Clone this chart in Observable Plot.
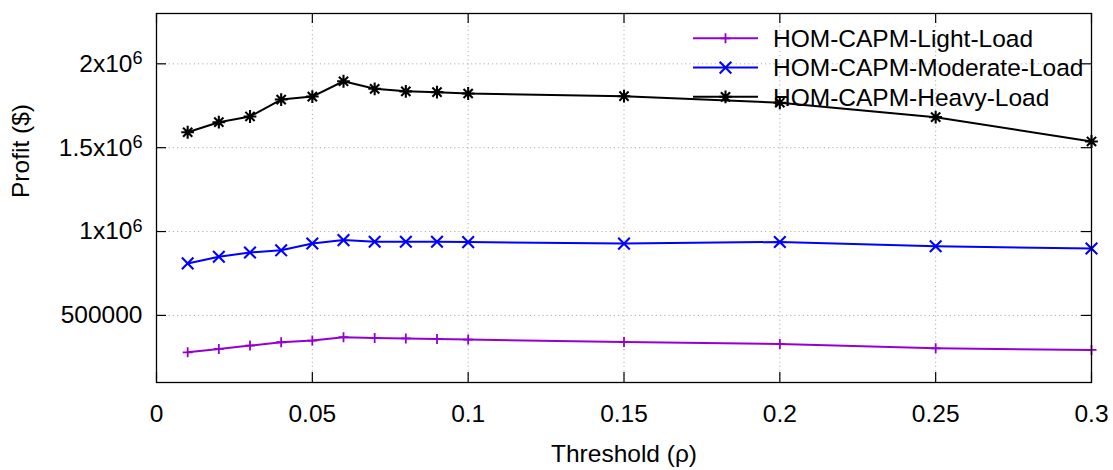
<!DOCTYPE html>
<html>
<head>
<meta charset="utf-8">
<script src="https://cdn.jsdelivr.net/npm/d3@7"></script>
<script src="https://cdn.jsdelivr.net/npm/@observablehq/plot@0.6"></script>
<style>
  html, body { margin: 0; padding: 0; background: #fff; }
  #chart svg { display: block; }
</style>
</head>
<body>
<div id="chart"></div>
<script>
// Profit versus threshold for three load levels
const thresholds   = [0.01, 0.02, 0.03, 0.04, 0.05, 0.06, 0.07, 0.08, 0.09, 0.1, 0.15, 0.2, 0.25, 0.3];
const lightLoad    = [280000, 300000, 320000, 340000, 350000, 370000, 365000, 363000, 360000, 356000, 341000, 330000, 304000, 294000];
const moderateLoad = [810000, 850000, 875000, 888000, 929000, 949000, 939000, 939000, 939000, 937000, 928000, 938000, 912000, 899000];
const heavyLoad    = [1592000, 1652000, 1686000, 1787000, 1805000, 1896000, 1851000, 1836000, 1831000, 1823000, 1807000, 1768000, 1682000, 1537000];

const seriesNames  = ["HOM-CAPM-Light-Load", "HOM-CAPM-Moderate-Load", "HOM-CAPM-Heavy-Load"];
const seriesColors = ["#9400d3", "#0000ff", "#000000"];

const xTicks      = [0, 0.05, 0.1, 0.15, 0.2, 0.25, 0.3];
const xGridTicks  = [0.05, 0.1, 0.15, 0.2, 0.25];
const yTicks      = [500000, 1000000, 1500000, 2000000];
const yTickLabels = ["500000", "1x10^6", "1.5x10^6", "2x10^6"];

const FONT = "'Liberation Sans', Arial, sans-serif";
const FS = 24.5;

// stroke-only point shapes: plus, cross, and the two overlaid
const symPlus = {draw(c, size) {
  const r = Math.sqrt(size / Math.PI);
  c.moveTo(-r, 0); c.lineTo(r, 0); c.moveTo(0, -r); c.lineTo(0, r);
}};
const symTimes = {draw(c, size) {
  const r = Math.sqrt(size / Math.PI);
  c.moveTo(-r, -r); c.lineTo(r, r); c.moveTo(-r, r); c.lineTo(r, -r);
}};
const symStar = {draw(c, size) {
  const r = Math.sqrt(size / Math.PI), q = r * 0.72;
  c.moveTo(-r, 0); c.lineTo(r, 0); c.moveTo(0, -r); c.lineTo(0, r);
  c.moveTo(-q, -q); c.lineTo(q, q); c.moveTo(-q, q); c.lineTo(q, -q);
}};
const seriesSymbols = [symPlus, symTimes, symStar];
const seriesRadius  = [5, 5.8, 6.4];

const seriesValues = [lightLoad, moderateLoad, heavyLoad];
const series = seriesValues.map((vals, s) =>
  thresholds.map((t, i) => ({x: t, y: vals[i], s}))
);

const W = 1113, H = 470;
const mL = 156, mR = 22, mT = 13, mB = 88;
const innerW = W - mL - mR, innerH = H - mT - mB;
const tickLen = 10;

const marks = [
  Plot.gridY(yTicks, {stroke: "#b0b0b0", strokeOpacity: 1, strokeWidth: 1, strokeDasharray: "1.2,3"}),
  Plot.gridX(xGridTicks, {stroke: "#b0b0b0", strokeOpacity: 1, strokeWidth: 1, strokeDasharray: "1.2,3"}),
  // inward major ticks on all four sides
  Plot.tickY(yTicks, {y: d => d, insetRight: innerW - tickLen, stroke: "black", strokeWidth: 1.2}),
  Plot.tickY(yTicks, {y: d => d, insetLeft: innerW - tickLen, stroke: "black", strokeWidth: 1.2}),
  Plot.tickX(xTicks, {x: d => d, insetTop: innerH - tickLen, stroke: "black", strokeWidth: 1.2}),
  Plot.tickX(xTicks, {x: d => d, insetBottom: innerH - tickLen, stroke: "black", strokeWidth: 1.2}),
  Plot.axisY(yTicks, {tickSize: 0, tickPadding: 14, tickFormat: d => yTickLabels[yTicks.indexOf(d)], fontSize: FS, label: null}),
  Plot.axisX(xTicks, {tickSize: 0, tickPadding: 22, tickFormat: d => d3.format("~g")(d), fontSize: FS, label: null}),
  Plot.text(["Threshold (ρ)"], {frameAnchor: "bottom", dy: 72, fontSize: FS, lineAnchor: "middle", fill: "black"}),
  Plot.text(["Profit ($)"], {frameAnchor: "left", dx: -135, rotate: -90, fontSize: FS, lineAnchor: "middle", fill: "black"}),
];

series.forEach((data, s) => {
  marks.push(Plot.line(data, {x: "x", y: "y", stroke: seriesColors[s], strokeWidth: 2}));
  marks.push(Plot.dot(data, {x: "x", y: "y", symbol: seriesSymbols[s], r: seriesRadius[s],
    fill: "none", stroke: seriesColors[s], strokeWidth: s === 0 ? 1.8 : 2.1}));
});

marks.push(Plot.frame({stroke: "black", strokeWidth: 1.3}));

const chart = Plot.plot({
  width: W, height: H,
  marginLeft: mL, marginRight: mR, marginTop: mT, marginBottom: mB,
  style: {fontFamily: FONT, fontSize: FS + "px", color: "black", background: "white"},
  x: {domain: [0, 0.3]},
  y: {domain: [100000, 2300000]},
  marks
});

// superscript exponents in the y tick labels
chart.querySelectorAll('g[aria-label="y-axis tick label"] text').forEach(t => {
  const str = t.textContent;
  if (!str.includes("^")) return;
  const [base, exp] = str.split("^");
  t.textContent = base;
  const sup = document.createElementNS("http://www.w3.org/2000/svg", "tspan");
  sup.setAttribute("dy", "-0.42em");
  sup.setAttribute("font-size", "0.74em");
  sup.textContent = exp;
  t.appendChild(sup);
});

// key, top right inside the frame
const key = d3.select(chart).append("g")
  .attr("font-family", FONT).attr("font-size", FS).attr("text-anchor", "start");
const keyRows = [38.3, 67.6, 96.8];
seriesNames.forEach((name, s) => {
  const y = keyRows[s];
  key.append("line").attr("x1", 693).attr("x2", 758).attr("y1", y).attr("y2", y)
    .attr("stroke", seriesColors[s]).attr("stroke-width", 2);
  const r = seriesRadius[s];
  key.append("path").attr("transform", `translate(725.5,${y})`)
    .attr("d", d3.symbol(seriesSymbols[s], r * r * Math.PI)())
    .attr("fill", "none").attr("stroke", seriesColors[s]).attr("stroke-width", s === 0 ? 1.8 : 2.1);
  key.append("text").attr("x", 773).attr("y", y).attr("dy", "0.36em")
    .attr("text-anchor", "start").attr("fill", "black").text(name);
});

document.getElementById("chart").appendChild(chart);
</script>
</body>
</html>
